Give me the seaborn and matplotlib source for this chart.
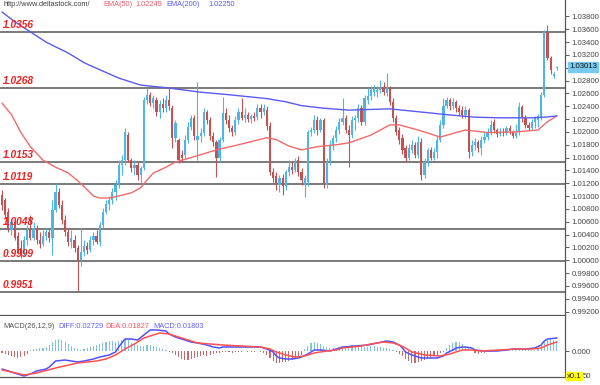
import numpy as np
import pandas as pd
import matplotlib
matplotlib.use('Agg')
import matplotlib.pyplot as plt
import seaborn as sns

# ---- price candles ----
opens = [1.0102, 1.0094, 1.0075, 1.0047, 1.0060, 1.0038, 1.0019, 1.0013, 1.0032, 1.0047,
         1.0035, 1.0050, 1.0032, 1.0025, 1.0038, 1.0044, 1.0035, 1.0078, 1.0106, 1.0086,
         1.0063, 1.0044, 1.0028, 1.0032, 1.0019, 1.0000, 1.0013, 1.0022, 1.0016, 1.0032,
         1.0038, 1.0028, 1.0055, 1.0075, 1.0088, 1.0094, 1.0106, 1.0117, 1.0149, 1.0156,
         1.0195, 1.0156, 1.0144, 1.0149, 1.0133, 1.0144, 1.0250, 1.0258, 1.0245, 1.0250,
         1.0231, 1.0244, 1.0237, 1.0250, 1.0237, 1.0191, 1.0188, 1.0164, 1.0164, 1.0188,
         1.0208, 1.0222, 1.0188, 1.0194, 1.0199, 1.0231, 1.0219, 1.0194, 1.0184, 1.0159,
         1.0188, 1.0230, 1.0219, 1.0206, 1.0200, 1.0219, 1.0231, 1.0222, 1.0227, 1.0220,
         1.0225, 1.0223, 1.0237, 1.0231, 1.0234, 1.0209, 1.0138, 1.0131, 1.0117, 1.0128,
         1.0116, 1.0138, 1.0145, 1.0141, 1.0156, 1.0138, 1.0117, 1.0122, 1.0200, 1.0203,
         1.0219, 1.0203, 1.0219, 1.0117, 1.0153, 1.0180, 1.0191, 1.0203, 1.0216, 1.0222,
         1.0203, 1.0195, 1.0219, 1.0222, 1.0237, 1.0216, 1.0250, 1.0256, 1.0262, 1.0262,
         1.0266, 1.0270, 1.0261, 1.0269, 1.0247, 1.0222, 1.0203, 1.0191, 1.0175, 1.0159,
         1.0172, 1.0180, 1.0164, 1.0184, 1.0133, 1.0153, 1.0172, 1.0159, 1.0169, 1.0188,
         1.0211, 1.0241, 1.0250, 1.0241, 1.0247, 1.0237, 1.0234, 1.0227, 1.0234, 1.0169,
         1.0180, 1.0184, 1.0175, 1.0188, 1.0192, 1.0200, 1.0216, 1.0203, 1.0197, 1.0200,
         1.0199, 1.0206, 1.0200, 1.0194, 1.0200, 1.0239, 1.0222, 1.0211, 1.0206, 1.0216,
         1.0219, 1.0222, 1.0258, 1.0356, 1.0316, 1.0287, 1.0300]
highs = [1.0110, 1.0097, 1.0082, 1.0066, 1.0063, 1.0044, 1.0032, 1.0038, 1.0055, 1.0071,
         1.0060, 1.0055, 1.0044, 1.0047, 1.0050, 1.0050, 1.0094, 1.0120, 1.0113, 1.0094,
         1.0071, 1.0050, 1.0047, 1.0039, 1.0024, 1.0050, 1.0032, 1.0028, 1.0038, 1.0044,
         1.0047, 1.0060, 1.0082, 1.0094, 1.0100, 1.0113, 1.0125, 1.0156, 1.0164, 1.0206,
         1.0200, 1.0159, 1.0156, 1.0153, 1.0147, 1.0255, 1.0269, 1.0262, 1.0258, 1.0255,
         1.0250, 1.0253, 1.0258, 1.0270, 1.0242, 1.0219, 1.0191, 1.0172, 1.0195, 1.0216,
         1.0227, 1.0227, 1.0278, 1.0206, 1.0237, 1.0234, 1.0223, 1.0200, 1.0188, 1.0192,
         1.0255, 1.0237, 1.0227, 1.0211, 1.0225, 1.0237, 1.0253, 1.0237, 1.0231, 1.0228,
         1.0231, 1.0244, 1.0244, 1.0244, 1.0241, 1.0216, 1.0144, 1.0138, 1.0133, 1.0135,
         1.0141, 1.0156, 1.0153, 1.0159, 1.0163, 1.0144, 1.0133, 1.0203, 1.0208, 1.0227,
         1.0225, 1.0222, 1.0222, 1.0159, 1.0188, 1.0195, 1.0209, 1.0222, 1.0253, 1.0227,
         1.0211, 1.0225, 1.0227, 1.0244, 1.0242, 1.0258, 1.0269, 1.0272, 1.0273, 1.0272,
         1.0281, 1.0278, 1.0292, 1.0272, 1.0253, 1.0227, 1.0208, 1.0197, 1.0180, 1.0181,
         1.0188, 1.0184, 1.0194, 1.0191, 1.0159, 1.0175, 1.0177, 1.0175, 1.0194, 1.0219,
         1.0253, 1.0255, 1.0253, 1.0253, 1.0250, 1.0242, 1.0241, 1.0241, 1.0237, 1.0188,
         1.0191, 1.0188, 1.0194, 1.0200, 1.0206, 1.0219, 1.0220, 1.0206, 1.0206, 1.0206,
         1.0209, 1.0211, 1.0203, 1.0213, 1.0247, 1.0242, 1.0227, 1.0216, 1.0220, 1.0225,
         1.0228, 1.0262, 1.0359, 1.0367, 1.0319, 1.0294, 1.0303]
lows = [1.0078, 1.0066, 1.0044, 1.0039, 1.0032, 1.0010, 1.0004, 1.0007, 1.0024, 1.0032,
        1.0032, 1.0025, 1.0019, 1.0022, 1.0032, 1.0028, 1.0008, 1.0075, 1.0082, 1.0057,
        1.0038, 1.0022, 1.0019, 1.0013, 0.9952, 0.9991, 1.0007, 1.0010, 1.0013, 1.0024,
        1.0025, 1.0022, 1.0050, 1.0072, 1.0078, 1.0088, 1.0094, 1.0113, 1.0133, 1.0149,
        1.0153, 1.0138, 1.0133, 1.0125, 1.0120, 1.0141, 1.0244, 1.0241, 1.0237, 1.0225,
        1.0222, 1.0231, 1.0231, 1.0234, 1.0175, 1.0184, 1.0152, 1.0153, 1.0159, 1.0183,
        1.0203, 1.0188, 1.0156, 1.0184, 1.0194, 1.0213, 1.0188, 1.0178, 1.0130, 1.0153,
        1.0184, 1.0213, 1.0200, 1.0194, 1.0195, 1.0213, 1.0219, 1.0216, 1.0216, 1.0214,
        1.0217, 1.0219, 1.0222, 1.0227, 1.0203, 1.0133, 1.0122, 1.0110, 1.0106, 1.0102,
        1.0110, 1.0131, 1.0135, 1.0138, 1.0131, 1.0117, 1.0099, 1.0116, 1.0194, 1.0199,
        1.0195, 1.0200, 1.0113, 1.0113, 1.0149, 1.0172, 1.0184, 1.0197, 1.0211, 1.0199,
        1.0145, 1.0191, 1.0203, 1.0216, 1.0211, 1.0211, 1.0244, 1.0250, 1.0256, 1.0255,
        1.0261, 1.0258, 1.0256, 1.0242, 1.0216, 1.0195, 1.0181, 1.0166, 1.0153, 1.0156,
        1.0167, 1.0159, 1.0159, 1.0125, 1.0128, 1.0147, 1.0156, 1.0156, 1.0159, 1.0184,
        1.0206, 1.0237, 1.0234, 1.0236, 1.0231, 1.0227, 1.0222, 1.0222, 1.0159, 1.0163,
        1.0172, 1.0169, 1.0164, 1.0183, 1.0188, 1.0195, 1.0199, 1.0192, 1.0194, 1.0194,
        1.0195, 1.0197, 1.0191, 1.0191, 1.0195, 1.0216, 1.0206, 1.0203, 1.0203, 1.0206,
        1.0208, 1.0219, 1.0255, 1.0312, 1.0291, 1.0284, 1.0297]
closes = [1.0086, 1.0071, 1.0050, 1.0060, 1.0035, 1.0016, 1.0013, 1.0032, 1.0047, 1.0035,
          1.0050, 1.0032, 1.0025, 1.0038, 1.0044, 1.0035, 1.0078, 1.0106, 1.0086, 1.0063,
          1.0044, 1.0028, 1.0035, 1.0019, 1.0000, 1.0013, 1.0022, 1.0016, 1.0032, 1.0038,
          1.0028, 1.0055, 1.0075, 1.0088, 1.0094, 1.0106, 1.0117, 1.0149, 1.0156, 1.0200,
          1.0156, 1.0144, 1.0149, 1.0133, 1.0144, 1.0250, 1.0258, 1.0245, 1.0253, 1.0231,
          1.0244, 1.0237, 1.0250, 1.0241, 1.0191, 1.0214, 1.0156, 1.0159, 1.0188, 1.0208,
          1.0222, 1.0194, 1.0194, 1.0199, 1.0231, 1.0219, 1.0194, 1.0184, 1.0159, 1.0188,
          1.0230, 1.0219, 1.0206, 1.0200, 1.0219, 1.0231, 1.0222, 1.0227, 1.0220, 1.0225,
          1.0222, 1.0237, 1.0231, 1.0237, 1.0209, 1.0138, 1.0128, 1.0117, 1.0128, 1.0116,
          1.0138, 1.0145, 1.0141, 1.0153, 1.0138, 1.0125, 1.0128, 1.0200, 1.0203, 1.0219,
          1.0203, 1.0219, 1.0117, 1.0153, 1.0180, 1.0191, 1.0203, 1.0216, 1.0222, 1.0203,
          1.0195, 1.0219, 1.0222, 1.0237, 1.0216, 1.0253, 1.0256, 1.0266, 1.0269, 1.0266,
          1.0270, 1.0262, 1.0269, 1.0247, 1.0222, 1.0200, 1.0188, 1.0172, 1.0159, 1.0175,
          1.0180, 1.0164, 1.0184, 1.0133, 1.0153, 1.0172, 1.0159, 1.0169, 1.0188, 1.0211,
          1.0241, 1.0250, 1.0241, 1.0247, 1.0237, 1.0231, 1.0227, 1.0234, 1.0169, 1.0180,
          1.0184, 1.0175, 1.0188, 1.0192, 1.0200, 1.0211, 1.0203, 1.0197, 1.0200, 1.0199,
          1.0206, 1.0202, 1.0194, 1.0200, 1.0239, 1.0222, 1.0211, 1.0206, 1.0216, 1.0222,
          1.0225, 1.0258, 1.0356, 1.0316, 1.0297, 1.0291, 1.0301]

# moving averages, sampled along the chart (bar index, value)
ema50_idx = [0, 3, 6, 9, 13, 17, 21, 24, 27, 29, 31, 34, 36, 41, 44, 46, 48, 52, 55, 62, 68, 75, 84,
             87, 91, 95, 100, 106, 110, 117, 123, 126, 132, 139, 144, 147, 154, 163, 170, 173, 176]
ema50_val = [1.0245, 1.0227, 1.0199, 1.0177, 1.0156, 1.0145, 1.0136, 1.0124, 1.0110, 1.0100, 1.0097,
             1.0097, 1.0099, 1.0105, 1.0113, 1.0125, 1.0136, 1.0145, 1.0153, 1.0163, 1.0172, 1.0180,
             1.0191, 1.0188, 1.0178, 1.0172, 1.0177, 1.0180, 1.0183, 1.0195, 1.0211, 1.0211, 1.0203,
             1.0192, 1.0199, 1.0203, 1.0199, 1.0200, 1.0203, 1.0216, 1.0225]
ema200_idx = [0, 4, 9, 14, 21, 26, 31, 37, 44, 52, 63, 72, 84, 90, 95, 102, 110, 123, 133, 141, 150,
              158, 168, 172, 176]
ema200_val = [1.0387, 1.0372, 1.0356, 1.0340, 1.0323, 1.0308, 1.0297, 1.0284, 1.0273, 1.0269, 1.0262,
              1.0258, 1.0252, 1.0247, 1.0241, 1.0237, 1.0234, 1.0236, 1.0231, 1.0227, 1.0223, 1.0222,
              1.0222, 1.0223, 1.0225]

levels = [1.0356, 1.0268, 1.0153, 1.0119, 1.0048, 0.9999, 0.9951]
level_labels = ['1.0356', '1.0268', '1.0153', '1.0119', '1.0048', '0.9999', '0.9951']
price_ticks = [1.038 - 0.002 * k for k in range(24)]

# ---- MACD panel ----
macd_hist = [-0.004, -0.006, -0.008, -0.010, -0.012, -0.014, -0.012, -0.010, -0.006,
             0.002, 0.004, 0.004, 0.006, 0.006,
             0.008, 0.012, 0.018, 0.022, 0.024, 0.022, 0.018, 0.014, 0.010,
             0.006, 0.004, 0.002,
             0.004, 0.006, 0.008, 0.010, 0.012, 0.014,
             0.016, 0.018, 0.020, 0.020, 0.018, 0.020, 0.022, 0.024, 0.022,
             0.016, 0.014, 0.012, 0.010, 0.010, 0.012,
             0.012, 0.010, 0.008, 0.006, 0.004,
             0.002, -0.002, -0.004,
             -0.008, -0.012, -0.016, -0.018, -0.018, -0.016, -0.014, -0.012,
             -0.010, -0.008, -0.010, -0.008, -0.006, -0.004, -0.004, -0.002,
             -0.002, -0.002, -0.004, -0.002, -0.002, -0.002, 0.001, -0.002, -0.002, -0.002, 0.001, -0.002,
             -0.004, -0.008, -0.014, -0.020, -0.024, -0.024, -0.022, -0.022, -0.020, -0.018, -0.016, -0.012, -0.008,
             0.004, 0.010, 0.016, 0.018,
             0.016, 0.014, 0.010, 0.008, 0.006, 0.006,
             0.006, 0.008, 0.008, 0.010, 0.010, 0.012, 0.012, 0.010, 0.010, 0.008, 0.008, 0.010, 0.010,
             0.008, 0.008, 0.006, 0.006,
             0.004, 0.002, -0.002, -0.006, -0.010,
             -0.016, -0.020, -0.024, -0.024, -0.022, -0.020, -0.018, -0.016, -0.014, -0.010, -0.008, -0.004, -0.002,
             0.006, 0.012, 0.016, 0.018, 0.018, 0.014, 0.010, 0.006,
             0.001, -0.004, -0.006, -0.004, -0.004, -0.002, -0.002, 0.001,
             0.002, 0.002, 0.002, 0.002, 0.004, 0.004, 0.004, 0.002, 0.004, 0.004, 0.004, 0.002, 0.002, 0.004,
             0.010, 0.018, 0.022, 0.024, 0.022, 0.020]
diff_idx = [0, 3, 7, 9, 11, 14, 15, 16, 17, 20, 24, 26, 29, 31, 34, 36, 37, 39, 41, 43, 45, 47, 49, 52,
            53, 55, 58, 60, 62, 65, 67, 69, 70, 72, 77, 82, 84, 86, 87, 88, 90, 92, 94, 95, 97, 99, 101,
            104, 106, 108, 112, 116, 119, 122, 124, 126, 127, 128, 130, 133, 135, 138, 140, 141, 143, 144,
            146, 147, 149, 150, 153, 157, 160, 162, 166, 169, 171, 172, 173, 176]
diff_val = [-0.036, -0.042, -0.050, -0.046, -0.040, -0.036, -0.032, -0.026, -0.020, -0.018, -0.022,
            -0.020, -0.016, -0.012, -0.008, -0.002, 0.008, 0.024, 0.024, 0.022, 0.032, 0.042, 0.042,
            0.040, 0.034, 0.028, 0.022, 0.018, 0.016, 0.012, 0.008, 0.006, 0.008, 0.008, 0.008, 0.008,
            0.004, -0.002, -0.010, -0.014, -0.016, -0.016, -0.014, -0.012, -0.006, 0.002, 0.002, 0.000,
            0.004, 0.008, 0.010, 0.012, 0.016, 0.020, 0.018, 0.012, 0.006, -0.002, -0.008, -0.014,
            -0.014, -0.014, -0.010, -0.004, 0.002, 0.006, 0.008, 0.008, 0.006, 0.002, 0.000, 0.000,
            0.002, 0.004, 0.004, 0.006, 0.012, 0.020, 0.024, 0.026]
dea_idx = [0, 3, 7, 11, 17, 24, 30, 33, 36, 39, 42, 45, 49, 50, 53, 55, 59, 62, 66, 70, 76, 82, 85, 87,
           90, 93, 96, 99, 103, 106, 108, 114, 117, 121, 124, 126, 128, 130, 134, 139, 142, 144, 146,
           149, 152, 158, 163, 168, 171, 173, 176]
dea_val = [-0.038, -0.042, -0.048, -0.044, -0.034, -0.024, -0.020, -0.016, -0.008, 0.004, 0.014, 0.026,
           0.034, 0.036, 0.034, 0.030, 0.022, 0.016, 0.014, 0.012, 0.010, 0.008, 0.004, -0.002, -0.008,
           -0.012, -0.010, -0.004, 0.000, 0.002, 0.006, 0.010, 0.014, 0.018, 0.016, 0.012, 0.006,
           -0.002, -0.008, -0.010, -0.006, -0.002, 0.002, 0.002, 0.000, 0.002, 0.004, 0.004, 0.006,
           0.012, 0.018]

BLUE = '#4fb5e8'
RED = '#c45252'
W, H = 600, 385


def fx(x):
    return x / W


def fy(y):
    return 1 - y / H


sns.set_style('white')
plt.rcParams['font.family'] = ['Liberation Sans', 'DejaVu Sans']

fig = plt.figure(figsize=(6, 3.85), dpi=100)
fig.patch.set_facecolor('white')
ax = fig.add_axes([0, fy(315), fx(565), 315 / H])
ax2 = fig.add_axes([0, fy(377), fx(565), 61 / H])

df = pd.DataFrame({'open': opens, 'high': highs, 'low': lows, 'close': closes})
df['idx'] = np.arange(len(df))
colors = np.where(df['close'] >= df['open'], BLUE, RED)
body = (df['close'] - df['open']).abs().clip(lower=0.00012)
bottom = df[['open', 'close']].min(axis=1)

for lvl in levels:
    ax.axhline(lvl, color='#707070', lw=1.3, zorder=1)

ax.vlines(df['idx'], df['low'], df['high'], colors=colors, lw=0.8, zorder=2)
ax.bar(df['idx'], body, bottom=bottom, width=0.7, color=colors, lw=0, zorder=3)

sns.lineplot(x=ema50_idx, y=ema50_val, ax=ax, color='#f26a6a', lw=1.0, zorder=4)
sns.lineplot(x=ema200_idx, y=ema200_val, ax=ax, color='#5a5aee', lw=1.0, zorder=4)

for lvl, lab in zip(levels, level_labels):
    ax.annotate(lab, xy=(0, lvl), xycoords=('axes fraction', 'data'), xytext=(2, 1.5),
                textcoords='offset points', color='#f01e1e', fontsize=7.3,
                fontweight='bold', fontstyle='italic', va='bottom', ha='left', zorder=5)

xmin, xmax = -2 / 3.153, 563 / 3.153
ax.set_xlim(xmin, xmax)
ax.set_ylim(0.99146, 1.04057)
ax.set_xticks([])
ax.yaxis.tick_right()
ax.set_yticks(price_ticks)
# the 1.03000 label sits under the current-price box
ax.set_yticklabels(['' if abs(t - 1.030) < 1e-6 else f'{t:.5f}' for t in price_ticks])
ax.tick_params(axis='y', labelsize=5.6, length=3, width=0.6, colors='#444444', pad=1.5, right=True)
ax.set_xlabel('')
ax.set_ylabel('')
for s in ['left', 'top']:
    ax.spines[s].set_visible(False)
for s in ['right', 'bottom']:
    ax.spines[s].set_color('#555555')
    ax.spines[s].set_linewidth(0.9)

ax.annotate('1.03013', xy=(1, 1.03013), xycoords=('axes fraction', 'data'), xytext=(3, 0),
            textcoords='offset points', va='center', ha='left', fontsize=5.6, color='#111111',
            bbox=dict(boxstyle='square,pad=0.15', fc='#79c9f0', ec='#79c9f0'),
            annotation_clip=False, zorder=6)

# MACD
hist = np.array(macd_hist)
ax2.bar(np.arange(len(hist)), hist, width=0.35,
        color=np.where(hist >= 0, '#7fc3e3', '#c96a6a'), lw=0)
sns.lineplot(x=diff_idx, y=diff_val, ax=ax2, color='#5050ff', lw=1.1)
sns.lineplot(x=dea_idx, y=dea_val, ax=ax2, color='#ff5050', lw=1.1)
ax2.set_xlim(xmin, xmax)
ax2.set_ylim(-0.052, 0.070)
ax2.set_xticks([])
ax2.yaxis.tick_right()
ax2.set_yticks([0])
ax2.set_yticklabels(['0.000'])
ax2.tick_params(axis='y', labelsize=5.6, length=3, width=0.6, colors='#444444', pad=1.5)
ax2.set_xlabel('')
ax2.set_ylabel('')
for s in ['left', 'top']:
    ax2.spines[s].set_visible(False)
for s in ['right', 'bottom']:
    ax2.spines[s].set_color('#555555')
    ax2.spines[s].set_linewidth(0.9)

# header texts
hdr = dict(fontsize=5.3, va='center', ha='left')
fig.text(fx(3), fy(5), 'http://www.deltastock.com/', color='#404040', **hdr)
fig.text(fx(103), fy(5), 'EMA(50)', color='#f05a6a', **hdr)
fig.text(fx(135), fy(5), '1.02249', color='#f05a6a', **hdr)
fig.text(fx(166), fy(5), 'EMA(200)', color='#5a5af0', **hdr)
fig.text(fx(208), fy(5), '1.02250', color='#5a5af0', **hdr)

fig.text(fx(3), fy(326), 'MACD(26,12,9)', color='#555555', **hdr)
fig.text(fx(58), fy(326), 'DIFF:0.02729', color='#6060ff', **hdr)
fig.text(fx(105), fy(326), 'DEA:0.01827', color='#ff5060', **hdr)
fig.text(fx(153), fy(326), 'MACD:0.01803', color='#6060ff', **hdr)

fig.text(fx(567), fy(376), 'x0.1', fontsize=5.6, va='center', ha='left', color='#222222',
         bbox=dict(boxstyle='square,pad=0.1', fc='#ffff00', ec='#ffff00'))
fig.text(fx(583), fy(376), '50', fontsize=5.6, va='center', ha='left', color='#444444')

fig.savefig('out.png', dpi=100, facecolor='white')
